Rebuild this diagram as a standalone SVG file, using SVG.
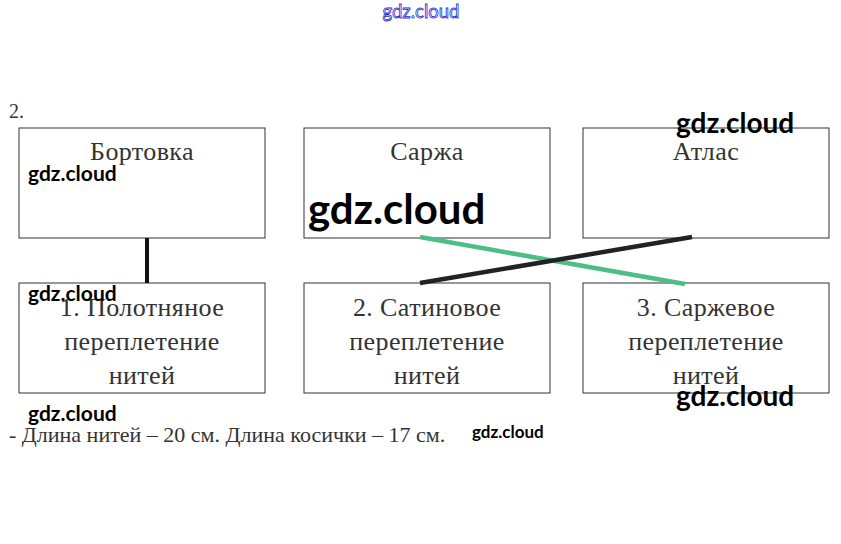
<svg xmlns="http://www.w3.org/2000/svg" width="841" height="544" viewBox="0 0 841 544">
<style>
.box{fill:#fff;stroke:#333;stroke-width:1}
.t{font-family:"Liberation Serif",serif;font-size:26px;fill:#333;text-anchor:middle;letter-spacing:0.4px}
.wm{font-family:Lato,"Open Sans",sans-serif;font-weight:bold;fill:#000}
</style>
<rect width="841" height="544" fill="#fff"/>
<text x="421" y="18" font-family="Lato,sans-serif" font-size="18.5" fill="#fff" stroke="#2a2ad0" stroke-width="0.8" text-anchor="middle">gdz.cloud</text>
<text x="9" y="118" font-family="Liberation Serif,serif" font-size="20" fill="#333">2.</text>
<g id="n1"><rect class="box" x="19" y="128" width="246" height="110"/><text class="t" x="142" y="160">Бортовка</text></g>
<g id="n2"><rect class="box" x="304" y="128" width="246" height="110"/><text class="t" x="427" y="160">Саржа</text></g>
<g id="n3"><rect class="box" x="583" y="128" width="246" height="110"/><text class="t" x="706" y="160">Атлас</text></g>
<g id="n4"><rect class="box" x="19" y="283" width="246" height="110"/><text class="t" x="142" y="316">1. Полотняное</text><text class="t" x="142" y="350">переплетение</text><text class="t" x="142" y="384">нитей</text></g>
<g id="n5"><rect class="box" x="304" y="283" width="246" height="110"/><text class="t" x="427" y="316">2. Сатиновое</text><text class="t" x="427" y="350">переплетение</text><text class="t" x="427" y="384">нитей</text></g>
<g id="n6"><rect class="box" x="583" y="283" width="246" height="110"/><text class="t" x="706" y="316">3. Саржевое</text><text class="t" x="706" y="350">переплетение</text><text class="t" x="706" y="384">нитей</text></g>
<g id="connectors" fill="none">
<line x1="147" y1="238" x2="147" y2="283" stroke="#111" stroke-width="4"/>
<line x1="420" y1="237" x2="685" y2="284" stroke="#4cbf86" stroke-width="4.5"/>
<line x1="420" y1="283" x2="692" y2="237" stroke="#222" stroke-width="4.5"/>
</g>
<text x="9" y="442" font-family="Liberation Serif,serif" font-size="22" fill="#333">- Длина нитей – 20 см. Длина косички – 17 см.</text>
<text class="wm" x="28" y="181" font-size="21">gdz.cloud</text>
<text class="wm" x="308" y="224" font-size="42">gdz.cloud</text>
<text class="wm" x="676" y="133" font-size="28">gdz.cloud</text>
<text class="wm" x="28" y="301" font-size="21">gdz.cloud</text>
<text class="wm" x="676" y="406" font-size="28">gdz.cloud</text>
<text class="wm" x="28" y="421" font-size="21">gdz.cloud</text>
<text class="wm" x="472" y="438" font-size="17" font-weight="normal">gdz.cloud</text>
</svg>
